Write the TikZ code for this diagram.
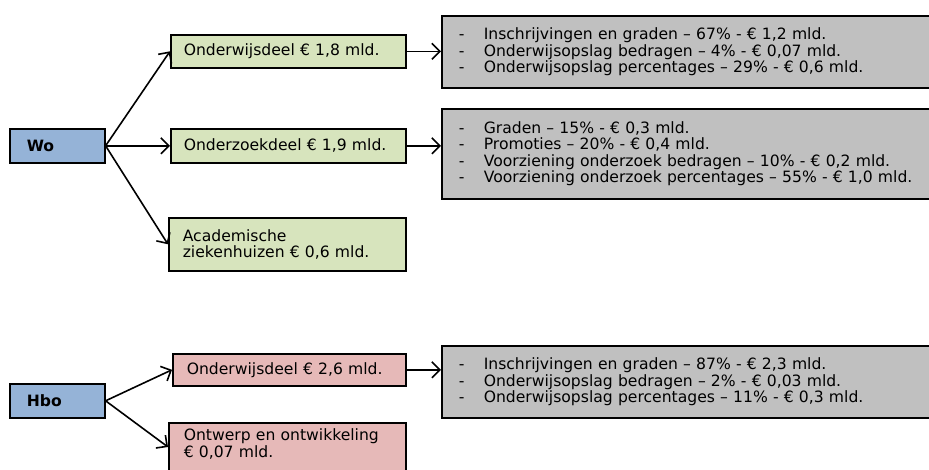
\documentclass[tikz,border=0pt]{standalone}
\usepackage{fontspec}
\setmainfont{DejaVu Sans}
\usetikzlibrary{arrows.meta,calc}
\definecolor{boxblue}{HTML}{95B3D7}
\definecolor{boxgreen}{HTML}{D7E4BD}
\definecolor{boxpink}{HTML}{E6B9B8}
\definecolor{boxgray}{HTML}{C0C0C0}
\newcommand{\dsh}{\makebox[25pt][l]{-}}
\begin{document}
\begin{tikzpicture}[x=1pt,y=-1pt,
  base/.style={draw=black, line width=1.6pt, rectangle, inner ysep=0pt, anchor=north west,
    align=left, font=\fontsize{15.6}{16.5}\selectfont},
  bluebox/.style={base, fill=boxblue, minimum width=95pt, minimum height=34pt, inner xsep=17pt, text width=61pt, font=\fontsize{15.6}{16.5}\selectfont\bfseries},
  greenbox/.style={base, fill=boxgreen, minimum width=235pt, inner xsep=13pt, text width=209pt},
  pinkbox/.style={base, fill=boxpink, inner xsep=14pt},
  graybox/.style={base, fill=boxgray, inner xsep=17pt, text width=460pt, minimum width=494pt},
  conn/.style={line width=1.6pt, -{Straight Barb[length=8pt,width=16pt,line width=1.6pt]}}
]
\useasboundingbox (0,0) rectangle (929,469);
\fill[white] (0,0) rectangle (929,469);

% Wo
\node[bluebox] (wo) at (9,128) {Wo};
\node[greenbox, minimum height=33pt] (g1) at (170,34) {Onderwijsdeel € 1,8 mld.};
\node[greenbox, minimum height=34pt] (g2) at (170,128) {Onderzoekdeel € 1,9 mld.};
\node[greenbox, minimum height=53pt, minimum width=237pt, text width=209pt, inner xsep=14pt] (g3) at (168,217) {Academische\\ziekenhuizen € 0,6 mld.};
\node[graybox, minimum height=72pt] (r1) at (441,15) {\dsh Inschrijvingen en graden – 67\% - € 1,2 mld.\\
\dsh Onderwijsopslag bedragen – 4\% - € 0,07 mld.\\
\dsh Onderwijsopslag percentages – 29\% - € 0,6 mld.};
\node[graybox, minimum height=90pt] (r2) at (441,108) {\dsh Graden – 15\% - € 0,3 mld.\\
\dsh Promoties – 20\% - € 0,4 mld.\\
\dsh Voorziening onderzoek bedragen – 10\% - € 0,2 mld.\\
\dsh Voorziening onderzoek percentages – 55\% - € 1,0 mld.};

\draw[conn] (wo.east) -- (g1.west);
\draw[conn] (wo.east) -- (g2.west);
\draw[conn] (wo.east) -- (g3.west);
\draw[conn] (g1.east) -- (g1.east -| r1.west);
\draw[conn] (g2.east) -- (g2.east -| r2.west);

% Hbo
\node[bluebox] (hbo) at (9,383) {Hbo};
\node[pinkbox, minimum width=233pt, minimum height=32pt, text width=205pt] (p1) at (172,353) {Onderwijsdeel € 2,6 mld.};
\node[pinkbox, minimum width=237pt, text width=207pt, inner xsep=15pt, inner ysep=6pt, text depth=40pt] (p2) at (168,422) {Ontwerp en ontwikkeling\\€ 0,07 mld.};
\node[graybox, minimum height=72pt] (r3) at (441,345) {\dsh Inschrijvingen en graden – 87\% - € 2,3 mld.\\
\dsh Onderwijsopslag bedragen – 2\% - € 0,03 mld.\\
\dsh Onderwijsopslag percentages – 11\% - € 0,3 mld.};
\coordinate (p2in) at ($(p2.north west)+(0,25)$);

\draw[conn] (hbo.east) -- (p1.west);
\draw[conn] (hbo.east) -- (p2in);
\draw[conn] (p1.east) -- (p1.east -| r3.west);
\end{tikzpicture}
\end{document}
